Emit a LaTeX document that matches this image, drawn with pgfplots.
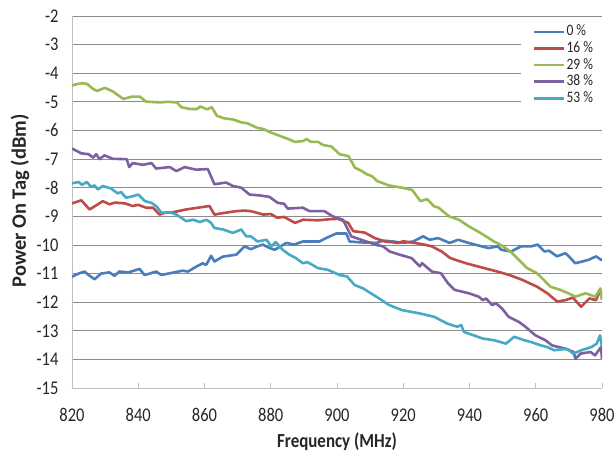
\documentclass[border=0pt]{standalone}
\usepackage{pgfplots}
\pgfplotsset{compat=1.18}
\usepackage{fontspec}
\setmainfont{Carlito}[FakeStretch=0.85]
\newfontfamily\ylabfont{Carlito}
\definecolor{s0}{HTML}{4A7EBB}
\definecolor{s16}{HTML}{BE4B48}
\definecolor{s29}{HTML}{98B954}
\definecolor{s38}{HTML}{7D60A0}
\definecolor{s53}{HTML}{46AAC5}
\definecolor{gridc}{HTML}{8C8C8C}
\definecolor{axc}{HTML}{C0C0C0}
\definecolor{txt}{HTML}{262626}
\begin{document}
\begin{tikzpicture}
\begin{axis}[
  at={(0,0)}, anchor=south west,
  scale only axis,
  width=530bp, height=372bp,
  xmin=820, xmax=980, ymin=-15, ymax=-2,
  xtick={820,840,...,980},
  ytick={-15,-14,...,-2},
  axis lines*=left,
  axis line style={draw=axc, line width=0.9bp, -},
  ymajorgrids,
  grid style={draw=gridc, line width=0.8bp},
  tick align=inside,
  major tick length=5bp,
  xtick style={draw=axc, line width=0.9bp},
  ytick style={draw=none},
  /pgf/number format/assume math mode=true,
  /pgf/number format/1000 sep={},
  tick label style={font=\fontsize{19.5}{21}\selectfont, text=txt},
  xticklabel style={yshift=-17bp},
  yticklabel style={xshift=-10bp},
  xlabel={\bfseries Frequency (MHz)},
  ylabel={\ylabfont\bfseries Power On Tag (dBm)},
  xlabel style={font=\fontsize{20}{22}\selectfont, text=txt, at={(axis description cs:0.5,-0.1586)}, anchor=base},
  ylabel style={font=\fontsize{20.5}{22}\selectfont, text=txt, at={(axis description cs:-0.098,0.503)}, anchor=center},
  legend style={at={(rel axis cs:0.847,0.984)}, anchor=north west, fill=white, draw=none,
    inner xsep=12bp, inner ysep=1.5bp, row sep=0bp,
    font=\fontsize{16}{17}\selectfont, text=txt,
    nodes={inner sep=0.8bp, text height=11.5bp, text depth=3.5bp, anchor=west}},
  legend cell align=left,
  legend image code/.code={\draw[#1] (0bp,0bp) -- (30bp,0bp);},
  every axis plot/.append style={line width=2.6bp, line join=round, no markers},
]
\addplot[s0] coordinates {
(820,-11.11) (822,-11.0) (823.8,-10.93) (825,-11.05) (826.8,-11.2) (828.8,-11.0)
(831.3,-10.96) (832.8,-11.08) (834.3,-10.93) (837,-10.96) (840.4,-10.84) (841.9,-11.05)
(843.5,-11.0) (845.4,-10.93) (847,-11.05) (850,-10.98) (853.4,-10.9) (855,-10.93)
(857.5,-10.76) (859.5,-10.64) (860.5,-10.7) (862,-10.38) (863,-10.58) (865.5,-10.41)
(869.6,-10.34) (872.1,-10.05) (874,-10.15) (876,-10.05) (877.6,-9.99) (879.5,-10.1)
(881.2,-10.17) (884.7,-9.93) (887,-9.99) (889.7,-9.88) (894.7,-9.88) (896.7,-9.76)
(899.8,-9.6) (902.8,-9.6) (903.8,-9.88) (906.8,-9.91) (911.9,-9.93) (914,-9.85)
(916.9,-9.88) (920,-9.93) (923,-9.88) (926,-9.7) (928,-9.82) (930.5,-9.76)
(934,-9.93) (936.6,-9.82) (939.7,-9.93) (943.7,-10.05) (945.7,-10.11) (948.5,-10.05)
(949.6,-10.17) (952.5,-10.23) (955.6,-10.05) (958.6,-10.05) (960.6,-9.99) (962.6,-10.23)
(964,-10.2) (966.4,-10.4) (968.9,-10.29) (970,-10.4) (971.9,-10.64) (974,-10.58)
(976,-10.52) (978.2,-10.4) (980,-10.54)
};
\addlegendentry{0 \%}
\addplot[s16] coordinates {
(820,-8.55) (822.8,-8.44) (825.3,-8.76) (827,-8.64) (829.3,-8.47) (831.3,-8.58)
(833,-8.52) (836,-8.55) (838.3,-8.64) (840,-8.6) (842.4,-8.7) (844.5,-8.7)
(846.4,-8.94) (848,-8.88) (850.4,-8.86) (854.5,-8.76) (858,-8.7) (861.5,-8.64)
(863,-8.94) (866,-8.88) (869.6,-8.82) (872,-8.8) (874,-8.82) (876.6,-8.9)
(877.7,-8.94) (880,-8.92) (882,-9.05) (884,-9.02) (887.3,-9.23) (889.8,-9.12)
(894.3,-9.14) (898,-9.1) (900.3,-9.09) (903.4,-9.23) (904.9,-9.52) (908.4,-9.57)
(911.4,-9.76) (914.5,-9.88) (918.5,-9.93) (920,-9.87) (921.5,-9.9) (924.5,-9.95)
(926,-9.98) (928.6,-10.05) (931.6,-10.23) (934.2,-10.46) (938.9,-10.64) (944.4,-10.81)
(948.4,-10.93) (952,-11.05) (955.9,-11.22) (960.4,-11.46) (963.5,-11.69) (966.5,-11.98)
(969,-11.93) (971.2,-11.84) (973.7,-12.16) (976.2,-11.87) (978.2,-11.93) (979.5,-11.57)
(980,-11.87)
};
\addlegendentry{16 \%}
\addplot[s29] coordinates {
(820,-4.43) (821.5,-4.38) (823,-4.35) (824.5,-4.37) (826.4,-4.55) (827.5,-4.62)
(830,-4.51) (832.5,-4.65) (835.5,-4.9) (838,-4.82) (840.5,-4.82) (842.3,-4.99)
(846.5,-5.02) (849,-5.0) (851.7,-5.02) (853,-5.19) (855.6,-5.25) (857.8,-5.25)
(858.7,-5.16) (860.7,-5.26) (862.2,-5.19) (863.7,-5.48) (865.7,-5.57) (868.7,-5.62)
(871.2,-5.72) (873,-5.75) (875.7,-5.9) (877.7,-5.95) (880,-6.07) (883.2,-6.21)
(885.3,-6.3) (887.3,-6.4) (889.8,-6.37) (890.8,-6.3) (892.2,-6.4) (894.3,-6.4)
(895.8,-6.51) (898.3,-6.56) (900.8,-6.83) (903.5,-6.9) (905.4,-7.3) (907.5,-7.42)
(909,-7.53) (910.6,-7.6) (912.1,-7.77) (913.6,-7.83) (915.6,-7.92) (919.7,-8.0)
(922.7,-8.08) (925.2,-8.47) (927.2,-8.4) (929.3,-8.65) (930.7,-8.7) (933.8,-9.0)
(936.8,-9.12) (939.8,-9.35) (943.3,-9.58) (947.4,-9.88) (949.4,-10.0) (952.4,-10.23)
(954.9,-10.52) (957.4,-10.81) (960.4,-10.99) (962.4,-11.22) (964.4,-11.46) (967.4,-11.57)
(970,-11.7) (972,-11.81) (975,-11.69) (978,-11.81) (979.5,-11.52) (980,-11.93)
};
\addlegendentry{29 \%}
\addplot[s38] coordinates {
(820,-6.63) (822.8,-6.8) (825,-6.83) (826.4,-6.95) (827.3,-6.83) (828.3,-7.0)
(829.8,-6.87) (832.3,-6.99) (835.5,-7.0) (836.5,-7.0) (837.3,-7.28) (838.3,-7.14)
(841.4,-7.2) (844,-7.14) (845.4,-7.33) (849.5,-7.28) (851.5,-7.42) (854,-7.28)
(857.5,-7.37) (861,-7.35) (863,-7.88) (866.5,-7.82) (868.6,-7.94) (871.1,-8.0)
(873.6,-8.24) (876.6,-8.27) (879.6,-8.32) (882.1,-8.53) (884,-8.56) (885.1,-8.73)
(889.7,-8.7) (891.7,-8.82) (896.2,-8.82) (898.7,-9.0) (901.8,-9.12) (904.3,-9.7)
(908.8,-9.88) (911.9,-10.0) (913.9,-10.05) (915.9,-10.23) (918.9,-10.34) (922.5,-10.46)
(925,-10.75) (925.7,-10.64) (928.6,-10.93) (931.4,-10.99) (933.5,-11.34) (935.5,-11.57)
(939.8,-11.69) (942.8,-11.81) (944,-11.93) (945,-11.87) (946.8,-12.1) (948,-12.04)
(949.8,-12.22) (951.8,-12.51) (954.9,-12.69) (956.9,-12.86) (959.9,-13.16) (962.9,-13.33)
(964.9,-13.51) (967,-13.57) (969,-13.63) (971.4,-13.74) (972,-13.98) (973.5,-13.8)
(976.5,-13.74) (977.9,-13.86) (979.7,-13.57) (980,-13.98)
};
\addlegendentry{38 \%}
\addplot[s53] coordinates {
(820,-7.85) (822,-7.8) (823,-7.9) (824.5,-7.8) (825.7,-7.97) (826.8,-7.92)
(827.8,-8.06) (829.3,-7.94) (831.8,-8.03) (833.8,-8.2) (834.8,-8.15) (836.3,-8.35)
(838.3,-8.3) (840,-8.24) (842,-8.47) (844,-8.53) (845.5,-8.65) (847,-8.88)
(849.5,-8.86) (851.5,-8.94) (854.5,-9.17) (856.5,-9.12) (858.6,-9.2) (860.6,-9.12)
(862,-9.23) (863,-9.41) (865.6,-9.46) (868.6,-9.58) (871.1,-9.46) (872.6,-9.7)
(874,-9.7) (876,-9.88) (878.7,-9.82) (880.2,-10.05) (881.5,-9.9) (883.6,-10.17)
(885.6,-10.34) (887.6,-10.46) (889.7,-10.64) (891,-10.6) (892.5,-10.69) (894.2,-10.81)
(897.2,-10.87) (899,-10.96) (900.7,-11.05) (903,-11.1) (905.3,-11.4) (907.9,-11.52)
(909.4,-11.63) (911.9,-11.81) (913.5,-11.93) (915.7,-12.1) (919.7,-12.28) (924.8,-12.39)
(929.3,-12.51) (933.3,-12.75) (936.3,-12.86) (937.5,-12.8) (938.3,-13.04) (941.3,-13.16)
(943.9,-13.27) (947.4,-13.33) (951,-13.45) (953.5,-13.21) (956.5,-13.33) (958.5,-13.39)
(961.5,-13.51) (963.5,-13.57) (965.5,-13.68) (969.5,-13.63) (971.3,-13.8) (973.8,-13.68)
(976.8,-13.57) (978.4,-13.45) (979.4,-13.16) (980,-13.57)
};
\addlegendentry{53 \%}
\end{axis}
\pgfresetboundingbox
\path[use as bounding box] (-72bp,-65bp) rectangle (543bp,388bp);
\end{tikzpicture}
\end{document}
